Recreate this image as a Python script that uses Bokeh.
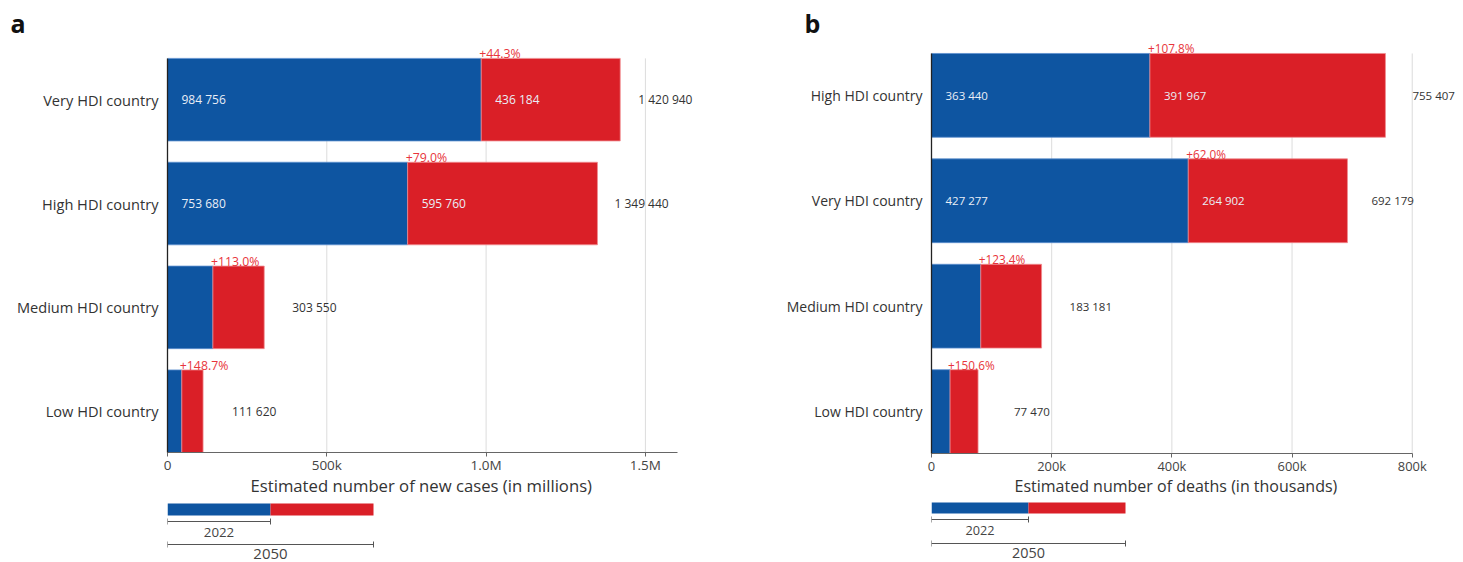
from bokeh.plotting import figure
from bokeh.models import ColumnDataSource, FixedTicker, LabelSet, Range1d, Title
from bokeh.layouts import row, column
from bokeh.embed import file_html
from bokeh.resources import INLINE
from bokeh.core.properties import value

FONT = "Open Sans"
BLUE = "#0e55a1"
RED = "#da1f27"

# ---- data: panel a (new cases) ----
cats_a = ["Very HDI country", "High HDI country", "Medium HDI country", "Low HDI country"]
cases_2022 = [984756, 753680, 142512, 44881]
cases_2050 = [1420940, 1349440, 303550, 111620]
ticks_a = [0, 500000, 1000000, 1500000]
tick_labels_a = ["0", "500k", "1.0M", "1.5M"]
xlabel_a = "Estimated number of new cases (in millions)"

# ---- data: panel b (deaths) ----
cats_b = ["High HDI country", "Very HDI country", "Medium HDI country", "Low HDI country"]
deaths_2022 = [363440, 427277, 81996, 30914]
deaths_2050 = [755407, 692179, 183181, 77470]
ticks_b = [0, 200000, 400000, 600000, 800000]
tick_labels_b = ["0", "200k", "400k", "600k", "800k"]
xlabel_b = "Estimated number of deaths (in thousands)"

legend_years = ["2022", "2050"]

# label gaps (px) after each total
gap_a = [18, 17, 28, 29]
gap_b = [27, 24, 28, 36]

H = 0.795
FIG_H = 495
BT, BB = 41, 40


def fmt(v):
    return f"{v:,}".replace(",", " ")


def px(v):
    return "%.1fpx" % v


def panel(title, cats, v22, v50, ticks, tlabels, xlabel, axis_end, xmax, width,
          bl, br, top_pad, title_off, gaps, s, xlabel_off):
    n = len(cats)
    idx = list(range(n))
    p = figure(width=width, height=FIG_H, output_backend="svg", toolbar_location=None,
               x_range=Range1d(0, xmax), y_range=Range1d(n - 1 + H / 2, -H / 2 - top_pad),
               min_border_left=bl, min_border_right=br, min_border_top=BT,
               min_border_bottom=BB)
    p.outline_line_color = None
    p.background_fill_color = "white"
    p.title.text = title
    p.title.text_font = FONT
    p.title.text_font_size = "25px"
    p.title.text_font_style = "bold"
    p.title.text_color = "#111111"
    p.title.align = "left"
    p.title.offset = title_off
    p.title.standoff = 6

    # vertical grid lines spanning the bars only
    p.segment(x0=ticks, x1=ticks, y0=[-H / 2] * len(ticks), y1=[n - 1 + H / 2] * len(ticks),
              line_color="#dcdcdc", line_width=1, level="underlay")

    src = ColumnDataSource(dict(
        y=idx, v22=v22, v50=v50,
        top=[i - H / 2 for i in idx],
        pct=["+%.1f%%" % ((b - a) / a * 100) for a, b in zip(v22, v50)],
        tot=[fmt(b) for b in v50],
        gap=gaps,
    ))
    p.hbar(y="y", left=0, right="v22", height=H, source=src, fill_color=BLUE,
           line_color="#5d8fcf", line_width=0.8)
    p.hbar(y="y", left="v22", right="v50", height=H, source=src, fill_color=RED,
           line_color="#f08b8f", line_width=0.8)

    # inside labels for wide bars
    big = [i for i in idx if v22[i] > 0.3 * max(v22)]
    isrc = ColumnDataSource(dict(
        y=[idx[i] for i in big],
        x0=[0 for i in big],
        x1=[v22[i] for i in big],
        t0=[fmt(v22[i]) for i in big],
        t1=[fmt(v50[i] - v22[i]) for i in big],
    ))
    for xc, tc in (("x0", "t0"), ("x1", "t1")):
        p.add_layout(LabelSet(x=xc, y="y", text=tc, source=isrc, x_offset=14,
                              text_font=value(FONT), text_font_size=px(12 * s),
                              text_color="#e9eef6", text_baseline="middle",
                              text_align="left"))
    # totals
    p.add_layout(LabelSet(x="v50", y="y", text="tot", source=src, x_offset="gap",
                          text_font=value(FONT), text_font_size=px(12 * s),
                          text_color="#333333", text_baseline="middle",
                          text_align="left"))
    # percent increase
    p.add_layout(LabelSet(x="v22", y="top", text="pct", source=src, x_offset=-2,
                          y_offset=0,
                          text_font=value(FONT), text_font_size=px(12.3 * s),
                          text_color="#e8353b", text_baseline="alphabetic",
                          text_align="left"))

    p.xaxis.bounds = (0, axis_end)
    p.xaxis.ticker = FixedTicker(ticks=ticks)
    p.xaxis.major_label_overrides = {t: l for t, l in zip(ticks, tlabels)}
    p.xaxis.major_label_text_font = FONT
    p.xaxis.major_label_text_font_size = px(13.5 * s)
    p.xaxis.major_label_text_color = "#444444"
    p.xaxis.major_label_standoff = -1
    p.xaxis.major_tick_line_color = "#666666"
    p.xaxis.major_tick_out = 4
    p.xaxis.major_tick_in = 0
    p.xaxis.minor_tick_line_color = None
    p.xaxis.minor_tick_out = 0
    p.xaxis.minor_tick_in = 0
    p.xaxis.axis_line_color = "#666666"

    # axis title, placed under the axis (left-anchored like the reference)
    xt = Title(text=xlabel, align="left", offset=xlabel_off, vertical_align="top",
               standoff=-6, text_font=FONT, text_font_size=px(16.7 * s),
               text_font_style="normal", text_color="#333333")
    p.add_layout(xt, "below")

    p.yaxis.bounds = (-H / 2, n - 1 + H / 2)
    p.yaxis.ticker = FixedTicker(ticks=idx)
    p.yaxis.major_label_overrides = {i: c for i, c in zip(idx, cats)}
    p.yaxis.major_label_text_font = FONT
    p.yaxis.major_label_text_font_size = px(14.6 * s)
    p.yaxis.major_label_text_color = "#333333"
    p.yaxis.major_label_standoff = 9
    p.yaxis.major_tick_line_color = None
    p.yaxis.minor_tick_line_color = None
    p.yaxis.major_tick_out = 0
    p.yaxis.minor_tick_out = 0
    p.yaxis.axis_line_color = "#222222"
    p.yaxis.axis_line_width = 1.3

    p.xgrid.grid_line_color = None
    p.ygrid.grid_line_color = None
    return p


def legend(width, bl, br, unit_w, ys, s):
    bar_t, bar_b, br1, t1, br2, t2 = ys
    lh = 562 - FIG_H
    frame_w = width - bl - br
    f = figure(width=width, height=lh, output_backend="svg", toolbar_location=None,
               x_range=Range1d(0, frame_w / unit_w), y_range=Range1d(lh, 0),
               x_axis_location=None, y_axis_location=None,
               min_border_left=bl, min_border_right=br,
               min_border_top=0, min_border_bottom=0)
    f.outline_line_color = None
    f.xgrid.grid_line_color = None
    f.ygrid.grid_line_color = None
    f.quad(left=[0], right=[1], top=[bar_t], bottom=[bar_b], fill_color=BLUE, line_color=None)
    f.quad(left=[1], right=[2], top=[bar_t], bottom=[bar_b], fill_color=RED, line_color=None)
    for x1, yb in ((1, br1), (2, br2)):
        f.segment(x0=[0], x1=[x1], y0=[yb], y1=[yb], line_color="#555555", line_width=1)
        f.segment(x0=[0, x1], x1=[0, x1], y0=[yb - 3, yb - 3], y1=[yb + 3, yb + 3],
                  line_color="#555555", line_width=1)
    f.text(x=[0.5, 1], y=[t1, t2], text=legend_years, text_align="center",
           text_baseline="middle", text_font=value(FONT),
           text_font_size=[px(13.3 * s), px(15 * s)], text_color="#444444")
    return f


WA, WB = 748, 712
LA, RA = 167, 33
LB, RB = 183, 5
SA, SB = 1.0, 0.957
pa = panel("a", cats_a, cases_2022, cases_2050, ticks_a, tick_labels_a, xlabel_a,
           1600000, 1720000, WA, LA, RA, 0.153, -157, gap_a, SA, 83)
pb = panel("b", cats_b, deaths_2022, deaths_2050, ticks_b, tick_labels_b, xlabel_b,
           800000, 872000, WB, LB, RB, 0.104, -127, gap_b, SB, 83)
la = legend(WA, LA, RA, 103, (8, 20, 26, 37, 49, 58), SA)
lb = legend(WB, LB, RB, 97, (7, 18, 24, 35, 48, 57), SB)

layout = row(column(pa, la), column(pb, lb))
open("out.html", "w").write(file_html(layout, INLINE))
